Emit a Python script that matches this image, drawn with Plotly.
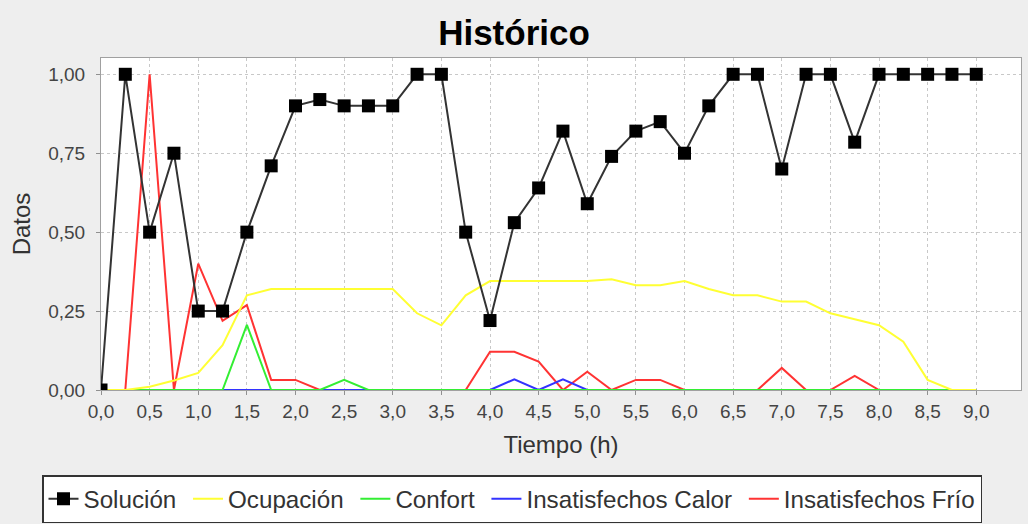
import plotly.graph_objects as go

tiempo = [i * 0.25 for i in range(37)]

solucion = [0.00, 1.00, 0.50, 0.75, 0.25, 0.25, 0.50, 0.71, 0.90, 0.92,
            0.90, 0.90, 0.90, 1.00, 1.00, 0.50, 0.22, 0.53, 0.64, 0.82,
            0.59, 0.74, 0.82, 0.85, 0.75, 0.90, 1.00, 1.00, 0.70, 1.00,
            1.00, 0.785, 1.00, 1.00, 1.00, 1.00, 1.00]

ocupacion = [0.00, 0.00, 0.01, 0.03, 0.054, 0.142, 0.30, 0.32, 0.32, 0.32,
             0.32, 0.32, 0.32, 0.243, 0.205, 0.30, 0.345, 0.345, 0.345, 0.345,
             0.345, 0.351, 0.332, 0.332, 0.345, 0.32, 0.30, 0.30, 0.28, 0.28,
             0.243, 0.224, 0.205, 0.153, 0.032, 0.00, 0.00]

confort = [0.00, 0.00, 0.00, 0.00, 0.00, 0.00, 0.206, 0.00, 0.00, 0.00,
           0.032, 0.00, 0.00, 0.00, 0.00, 0.00, 0.00, 0.00, 0.00, 0.00,
           0.00, 0.00, 0.00, 0.00, 0.00, 0.00, 0.00, 0.00, 0.00, 0.00,
           0.00, 0.00, 0.00, 0.00, 0.00, 0.00, 0.00]

calor = [0.00, 0.00, 0.00, 0.00, 0.00, 0.00, 0.00, 0.00, 0.00, 0.00,
         0.00, 0.00, 0.00, 0.00, 0.00, 0.00, 0.00, 0.034, 0.00, 0.034,
         0.00, 0.00, 0.00, 0.00, 0.00, 0.00, 0.00, 0.00, 0.00, 0.00,
         0.00, 0.00, 0.00, 0.00, 0.00, 0.00, 0.00]

frio = [0.00, 0.00, 1.00, 0.00, 0.40, 0.219, 0.269, 0.032, 0.032, 0.00,
        0.00, 0.00, 0.00, 0.00, 0.00, 0.00, 0.121, 0.121, 0.09, 0.00,
        0.058, 0.00, 0.032, 0.032, 0.00, 0.00, 0.00, 0.00, 0.07, 0.00,
        0.00, 0.045, 0.00, 0.00, 0.00, 0.00, 0.00]

series_names = ["Solución", "Ocupación", "Confort", "Insatisfechos Calor", "Insatisfechos Frío"]

x_ticks = [i * 0.5 for i in range(19)]
y_ticks = [0.0, 0.25, 0.5, 0.75, 1.0]

FONT = "Liberation Sans, Arial, sans-serif"
NB = "\u00a0"

PLOT_L, PLOT_R, PLOT_T, PLOT_B = 101, 1021, 58, 390

fig = go.Figure()
fig.add_trace(go.Scatter(x=tiempo, y=frio, name=series_names[4], mode="lines",
                         line=dict(color="#ff3333", width=2), legendrank=5))
fig.add_trace(go.Scatter(x=tiempo, y=calor, name=series_names[3] + NB, mode="lines",
                         line=dict(color="#3333ff", width=2), legendrank=4))
fig.add_trace(go.Scatter(x=tiempo, y=confort, name=series_names[2] + NB, mode="lines",
                         line=dict(color="#33ee33", width=2), legendrank=3))
fig.add_trace(go.Scatter(x=tiempo, y=ocupacion, name=series_names[1] + NB, mode="lines",
                         line=dict(color="#ffff33", width=2), legendrank=2))
fig.add_trace(go.Scatter(x=tiempo, y=solucion, name=series_names[0] + NB, mode="lines+markers",
                         line=dict(color="#333333", width=2),
                         marker=dict(symbol="square", size=13, color="black"),
                         legendrank=1))

fig.update_layout(
    width=1028, height=524,
    paper_bgcolor="#eeeeee", plot_bgcolor="white",
    margin=dict(l=PLOT_L, r=1028 - PLOT_R, t=PLOT_T, b=524 - PLOT_B, autoexpand=False),
    separators=",.",
    font=dict(family=FONT, color="#333333", size=19),
    title=dict(text="<b>Histórico</b>", x=0.5, xanchor="center", xref="container",
               y=1 - 33 / 524, yanchor="middle", yref="container",
               font=dict(size=35, color="black", family=FONT)),
    showlegend=True,
    legend=dict(orientation="h", xref="paper", yref="paper",
                x=(42 - PLOT_L) / (PLOT_R - PLOT_L), xanchor="left",
                y=-(475 - PLOT_B) / (PLOT_B - PLOT_T), yanchor="top",
                bgcolor="white", bordercolor="#333333", borderwidth=1.5,
                font=dict(size=24.2, color="#333333", family=FONT),
                itemwidth=30, traceorder="normal"),
)

fig.update_xaxes(range=[0, 9.46], tickvals=x_ticks, tickformat=".1f",
                 showgrid=True, gridcolor="#c8c8c8", griddash="3px,3px", gridwidth=1,
                 showline=True, linecolor="#a0a0a0", mirror=True, linewidth=1,
                 ticks="outside", ticklen=4, tickcolor="#909090",
                 zeroline=False, automargin=False,
                 tickfont=dict(size=19, color="#444444"),
                 title=dict(text="Tiempo (h)", font=dict(size=24, color="#333333"), standoff=15))
fig.update_yaxes(range=[0, 1.0516], tickvals=y_ticks, tickformat=".2f",
                 showgrid=True, gridcolor="#c8c8c8", griddash="3px,3px", gridwidth=1,
                 showline=True, linecolor="#a0a0a0", mirror=True, linewidth=1,
                 ticks="outside", ticklen=4, tickcolor="#909090",
                 zeroline=False, automargin=False, ticklabelstandoff=7,
                 tickfont=dict(size=19, color="#444444"),
                 title=dict(text="Datos", font=dict(size=24, color="#333333"), standoff=10))

fig.write_html("out.html", config={"displayModeBar": False},
               post_script="document.body.style.margin='0';")
